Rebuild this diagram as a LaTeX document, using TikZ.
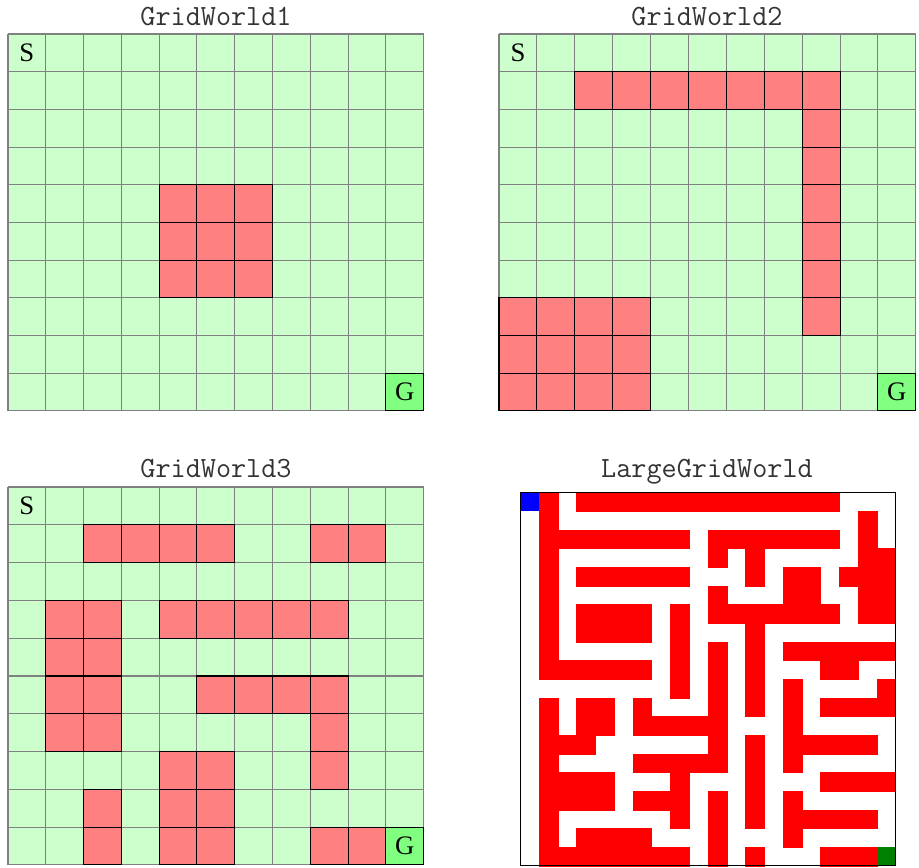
\documentclass[tikz,border=0pt]{standalone}
\usepackage{fontspec}
\setmainfont{Liberation Serif}
\usepackage{tikz}

\definecolor{freecell}{HTML}{CCFFCC}
\definecolor{wallcell}{HTML}{FF8080}
\definecolor{goalcell}{HTML}{80FF80}
\definecolor{mazewall}{HTML}{FF0000}
\definecolor{mazestart}{HTML}{0000FF}
\definecolor{mazegoal}{HTML}{008000}

\begin{document}
\begin{tikzpicture}[x=0.02cm, y=-0.02cm,
    title/.style={anchor=base, font=\ttfamily\fontsize{16.7}{18}\selectfont, text=black!80},
    letter/.style={font=\fontsize{15.2}{16}\selectfont},
    gridline/.style={draw=gray, line width=0.6pt},
    wall/.style={fill=wallcell, draw=black, line width=0.6pt},
    goal/.style={fill=goalcell, draw=black, line width=0.6pt},
    maze/.style={fill=mazewall, draw=mazewall, line width=0.2pt}]
  \useasboundingbox (0,0) rectangle (919,867);

  % GridWorld1
  \node[title] (title1) at (216,25) {GridWorld1};
  \begin{scope}[shift={(8,34)}, x=0.756cm, y=-0.754cm]
    \fill[freecell] (0,0) rectangle (11,10);
    \foreach \c in {0,...,11}
      \draw[gridline] (\c,0) -- (\c,10);
    \foreach \r in {0,...,10}
      \draw[gridline] (0,\r) -- (11,\r);
    \foreach \c in {4,5,6}
      \foreach \r in {4,5,6}
        \draw[wall] (\c,\r) rectangle ++(1,1);
    \draw[goal] (10,9) rectangle (11,10);
    \node[letter] (start1) at (0.5,0.5) {S};
    \node[letter] (goal1) at (10.5,9.5) {G};
  \end{scope}

  % GridWorld2
  \node[title] (title2) at (707,25) {GridWorld2};
  \begin{scope}[shift={(499,34)}, x=0.758cm, y=-0.754cm]
    \fill[freecell] (0,0) rectangle (11,10);
    \foreach \c in {0,...,11}
      \draw[gridline] (\c,0) -- (\c,10);
    \foreach \r in {0,...,10}
      \draw[gridline] (0,\r) -- (11,\r);
    \foreach \c in {2,...,8}
      \draw[wall] (\c,1) rectangle ++(1,1);
    \foreach \r in {2,...,7}
      \draw[wall] (8,\r) rectangle ++(1,1);
    \foreach \c in {0,...,3}
      \foreach \r in {7,8,9}
        \draw[wall] (\c,\r) rectangle ++(1,1);
    \draw[goal] (10,9) rectangle (11,10);
    \node[letter] (start2) at (0.5,0.5) {S};
    \node[letter] (goal2) at (10.5,9.5) {G};
  \end{scope}

  % GridWorld3
  \node[title] (title3) at (216,477) {GridWorld3};
  \begin{scope}[shift={(8,487)}, x=0.756cm, y=-0.756cm]
    \fill[freecell] (0,0) rectangle (11,10);
    \foreach \c in {0,...,11}
      \draw[gridline] (\c,0) -- (\c,10);
    \foreach \r in {0,...,10}
      \draw[gridline] (0,\r) -- (11,\r);
    \foreach \r/\cols in {1/{2,3,4,5,8,9}, 3/{1,2,4,5,6,7,8}, 4/{1,2},
        5/{1,2,5,6,7,8}, 6/{1,2,8}, 7/{4,5,8}, 8/{2,4,5}, 9/{2,4,5,8,9}}
      \foreach \c in \cols
        \draw[wall] (\c,\r) rectangle ++(1,1);
    \draw[goal] (10,9) rectangle (11,10);
    \node[letter] (start3) at (0.5,0.5) {S};
    \node[letter] (goal3) at (10.5,9.5) {G};
  \end{scope}

  % LargeGridWorld
  \node[title] (title4) at (707,477) {LargeGridWorld};
  \begin{scope}[shift={(520.3,492.3)}, x=0.3754cm, y=-0.3737cm]
    \fill[white] (0,0) rectangle (20,20);
    \foreach \r/\runs in {
        0/{1/1,3/16}, 1/{1/1,18/18}, 2/{1/8,10/16,18/18},
        3/{1/1,10/10,12/12,18/19}, 4/{1/1,3/8,12/12,14/15,17/19},
        5/{1/1,10/10,14/15,18/19}, 6/{1/1,3/6,8/8,10/16,18/19},
        7/{1/1,3/6,8/8,12/12}, 8/{1/1,8/8,10/10,12/12,14/19},
        9/{1/6,8/8,10/10,12/12,16/17}, 10/{8/8,10/10,12/12,14/14,19/19},
        11/{1/1,3/4,6/6,10/10,12/12,14/14,16/19}, 12/{1/1,3/4,6/10,14/14},
        13/{1/3,10/10,12/12,14/18}, 14/{1/1,6/10,12/12,14/14},
        15/{1/4,8/8,12/12,16/19}, 16/{1/4,6/8,10/10,12/12,14/14},
        17/{1/1,8/8,10/10,12/12,14/18}, 18/{1/1,3/6,10/10,14/14},
        19/{1/8,10/10,12/12,16/18}}
      \foreach \a/\b in \runs
        \filldraw[maze] (\a,\r) rectangle (\b+1,\r+1);
    \fill[mazestart] (0,0) rectangle (1,1);
    \fill[mazegoal] (19,19) rectangle (20,20);
    \draw[black, line width=0.6pt] (0,0) rectangle (20,20);
  \end{scope}
\end{tikzpicture}
\end{document}
